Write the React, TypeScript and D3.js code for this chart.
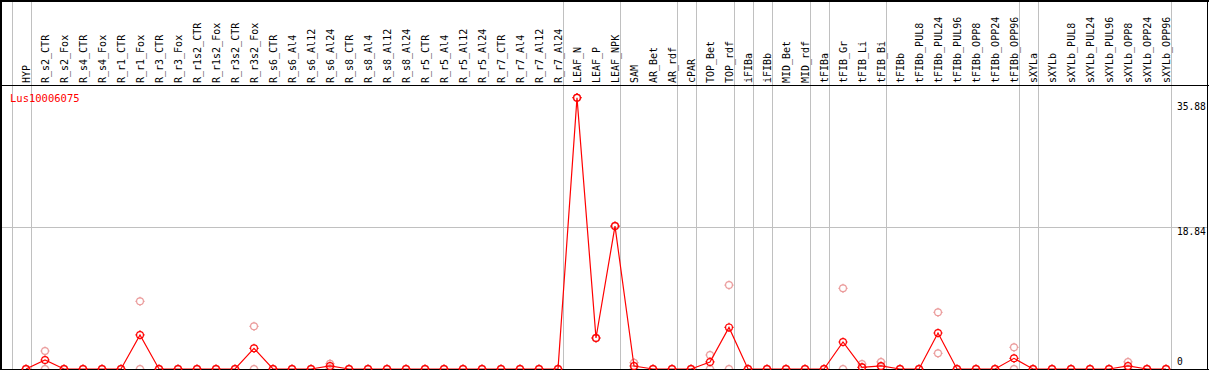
import React from "react";
import * as d3 from "d3";

const categories = [
  "HYP", "R_s2_CTR", "R_s2_Fox", "R_s4_CTR", "R_s4_Fox", "R_r1_CTR", "R_r1_Fox", "R_r3_CTR", "R_r3_Fox",
  "R_r1s2_CTR", "R_r1s2_Fox", "R_r3s2_CTR", "R_r3s2_Fox", "R_s6_CTR", "R_s6_Al4", "R_s6_Al12", "R_s6_Al24",
  "R_s8_CTR", "R_s8_Al4", "R_s8_Al12", "R_s8_Al24", "R_r5_CTR", "R_r5_Al4", "R_r5_Al12", "R_r5_Al24",
  "R_r7_CTR", "R_r7_Al4", "R_r7_Al12", "R_r7_Al24", "LEAF_N", "LEAF_P", "LEAF_NPK", "SAM", "AR_Bet", "AR_rdf",
  "cPAR", "TOP_Bet", "TOP_rdf", "iFIBa", "iFIBb", "MID_Bet", "MID_rdf", "tFIBa", "tFIB_Gr", "tFIB_Li", "tFIB_Bi",
  "tFIBb", "tFIBb_PUL8", "tFIBb_PUL24", "tFIBb_PUL96", "tFIBb_OPP8", "tFIBb_OPP24", "tFIBb_OPP96",
  "sXYLa", "sXYLb", "sXYLb_PUL8", "sXYLb_PUL24", "sXYLb_PUL96", "sXYLb_OPP8", "sXYLb_OPP24", "sXYLb_OPP96",
];

// mean values (red line)
const means = [
  0, 1.19, 0, 0, 0, 0, 4.5, 0, 0, 0, 0, 0, 2.73, 0, 0, 0, 0.4,
  0, 0, 0, 0, 0, 0, 0, 0, 0, 0, 0, 0, 35.88, 4.1, 18.9, 0.4, 0, 0,
  0, 0.93, 5.5, 0, 0, 0, 0, 0, 3.57, 0.22, 0.4,
  0, 0, 4.76, 0, 0, 0, 1.41,
  0, 0, 0, 0, 0, 0.4, 0, 0,
];

// replicate values (pink circles)
const rep1 = [
  0, 2.38, 0, 0, 0, 0, 8.95, 0, 0, 0, 0, 0, 5.64, 0, 0, 0, 0.7,
  0, 0, 0, 0, 0, 0, 0, 0, 0, 0, 0, 0, 35.88, 4.1, 18.9, 0.83, 0, 0,
  0, 1.85, 11.1, 0, 0, 0, 0, 0, 10.67, 0.66, 0.93,
  0, 0, 7.5, 0, 0, 0, 2.87,
  0, 0, 0, 0, 0, 0.93, 0, 0,
];
const rep2 = [
  0, 0, 0, 0, 0, 0, 0, 0, 0, 0, 0, 0, 0, 0, 0, 0, 0.1,
  0, 0, 0, 0, 0, 0, 0, 0, 0, 0, 0, 0, 35.88, 4.1, 18.9, 0, 0, 0,
  0, 0, 0, 0, 0, 0, 0, 0, 0, 0.22, 0.3,
  0, 0, 2.07, 0, 0, 0, 0,
  0, 0, 0, 0, 0, 0, 0, 0,
];

const yTicks = [0, 18.84, 35.88];
const gridValues = [18.84];
// a separator is drawn after each of these categories (plus one before the first)
const groupEnds = [
  "HYP", "R_r7_Al24", "LEAF_NPK", "AR_rdf", "cPAR", "TOP_rdf", "iFIBa", "iFIBb",
  "MID_rdf", "tFIBa", "tFIB_Bi", "tFIBb_OPP96", "sXYLa", "sXYLb_OPP96",
];
const geneName = "Lus10006075";

const W = 1209;
const H = 370;
const FONT = "'DejaVu Sans Mono', 'Liberation Mono', monospace";

function Marker({ cx, cy, color }: { cx: number; cy: number; color: string }) {
  const r = 3.4;
  return (
    <g stroke={color} fill="none" strokeWidth={1.2}>
      <circle cx={cx} cy={cy} r={r} />
      <line x1={cx} x2={cx} y1={cy - r - 1.2} y2={cy - r + 0.4} />
      <line x1={cx} x2={cx} y1={cy + r - 0.4} y2={cy + r + 1.2} />
      <line x1={cx - r - 1.2} x2={cx - r + 0.4} y1={cy} y2={cy} />
      <line x1={cx + r - 0.4} x2={cx + r + 1.2} y1={cy} y2={cy} />
    </g>
  );
}

export default function App() {
  const x = d3.scalePoint<string>().domain(categories).range([26, 1166]).padding(0);
  const step = x.step();
  const y = d3.scaleLinear().domain([0, 35.88]).range([369, 97.7]);

  const line = d3
    .line<number>()
    .x((_, i) => x(categories[i]) as number)
    .y((d) => y(d));

  const sepXs = [(x(categories[0]) as number) - step + 4.5].concat(
    groupEnds.map((c) => (x(c) as number) + 4.5)
  );

  const headerY = 85.5;

  return (
    <div>
      <style>{`body{margin:0}`}</style>
      <svg width={W} height={H} style={{ display: "block", background: "#fff" }}>
        {/* horizontal grid */}
        {gridValues.map((v) => (
          <line
            key={v}
            x1={0}
            x2={W - 1}
            y1={Math.round(y(v)) + 0.5}
            y2={Math.round(y(v)) + 0.5}
            stroke="#c0c0c0"
            shapeRendering="crispEdges"
          />
        ))}
        {/* vertical separators */}
        {sepXs.map((sx, i) => (
          <line
            key={i}
            x1={Math.round(sx) + 0.5}
            x2={Math.round(sx) + 0.5}
            y1={0}
            y2={H}
            stroke="#c0c0c0"
            shapeRendering="crispEdges"
          />
        ))}
        {/* category labels */}
        {categories.map((c) => {
          const cx = Math.round(x(c) as number) + 3.5;
          return (
            <text
              key={c}
              transform={`translate(${cx},83) rotate(-90)`}
              fontFamily={FONT}
              fontSize={10}
              fill="#000"
            >
              {c}
            </text>
          );
        })}
        {/* y labels */}
        {yTicks.map((v, i) => {
          const off = i === 0 ? -4 : i === yTicks.length - 1 ? 12.3 : 8.5;
          return (
            <text
              key={v}
              x={1177}
              y={y(v) + off}
              textAnchor="start"
              fontFamily={FONT}
              fontSize={9.6}
              fill="#000"
            >
              {String(v)}
            </text>
          );
        })}
        {/* gene name */}
        <text x={10} y={101.5} fontFamily={FONT} fontSize={10.5} fill="#ff0000">
          {geneName}
        </text>
        {/* replicates */}
        {[rep1, rep2].map((rep, k) =>
          rep.map((v, i) => (
            <Marker key={`r${k}-${i}`} cx={x(categories[i]) as number} cy={y(v)} color="#eb9c9c" />
          ))
        )}
        {/* mean line */}
        <path d={line(means) || ""} fill="none" stroke="#ff0000" strokeWidth={1.2} />
        {/* frame */}
        <g stroke="#000" strokeWidth={1.5} shapeRendering="crispEdges">
          <line x1={0} x2={W} y1={1} y2={1} />
          <line x1={0} x2={W} y1={headerY} y2={headerY} />
          <line x1={0} x2={W} y1={369.5} y2={369.5} />
          <line x1={1} x2={1} y1={0} y2={H} />
          <line x1={W - 1.5} x2={W - 1.5} y1={0} y2={H} />
        </g>
        {/* mean markers */}
        {means.map((v, i) => (
          <Marker key={`m${i}`} cx={x(categories[i]) as number} cy={y(v)} color="#ff0000" />
        ))}
      </svg>
    </div>
  );
}
